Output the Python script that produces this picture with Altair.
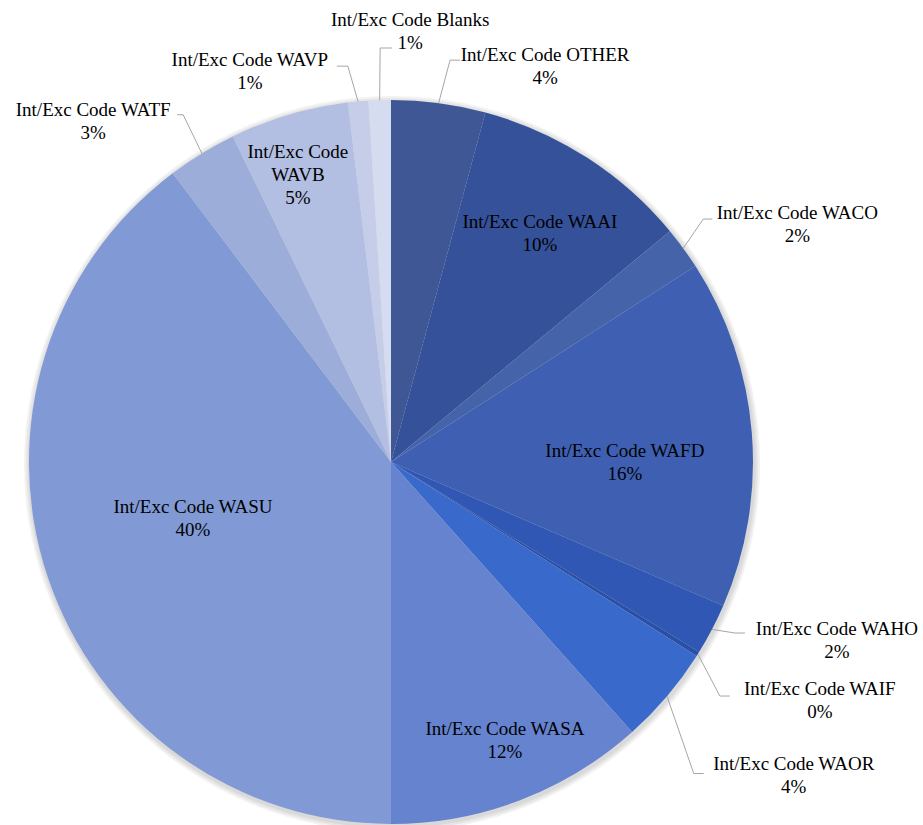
import math
import altair as alt
import pandas as pd

# ---- data ----
codes = ["OTHER", "WAAI", "WACO", "WAFD", "WAHO", "WAIF", "WAOR",
         "WASA", "WASU", "WATF", "WAVB", "WAVP", "Blanks"]
values = [4.2, 9.8, 1.9, 15.6, 2.3, 0.2, 4.4, 11.6, 39.7, 3.1, 5.3, 0.9, 1.0]
colors = ["#3F5795", "#34519A", "#4563A9", "#3F60B2", "#2F57B3", "#2A4FA6", "#396ACB",
          "#6583CF", "#819AD5", "#9DADD9", "#B2BEE2", "#C6CDE9", "#D5DCEF"]

# ---- layout ----
CX, CY, R = 391, 462, 362
FONT = "Times New Roman"
LH = 23

# inside labels: (radius factor, angle nudge in degrees)
inside = {
    "WAAI": (0.754, 0.3),
    "WAFD": (0.646, 4.8),
    "WASA": (0.83, -1.4),
    "WASU": (0.569, 2.6),
    "WAVB": (0.833, -1.6),
}
# outside labels: (elbow radius factor, elbow angle nudge, horizontal segment, text dx, text dy)
outside = {
    "OTHER": (1.122, 0.8, 10, 85, 6.5),
    "Blanks": (1.144, 0.3, 12, 18, -16.5),
    "WAVP": (1.10, -1.0, -11, -87, 5.5),
    "WATF": (1.118, 0.6, -6, -84, 7),
    "WACO": (1.093, -1.7, 9, 85, 5),
    "WAHO": (1.061, -1.1, 10, 92, 7),
    "WAIF": (1.115, 3.4, 10, 90, 4),
    "WAOR": (1.20, 5.5, 10, 90, 2),
}

names = [f"Int/Exc Code {c}" for c in codes]
total = sum(values)
df = pd.DataFrame({"name": names, "code": codes, "value": values,
                   "order": list(range(len(codes)))})


def polar(deg, r):
    a = math.radians(deg)
    return CX + r * math.sin(a), CY - r * math.cos(a)


label_rows, line_rows = [], []
cum = 0.0
for code, v in zip(codes, values):
    mid = (cum + v / 2) / total * 360.0
    cum += v
    pct = f"{round(v)}%"
    if code in inside:
        rf, dang = inside[code]
        x, y = polar(mid + dang, rf * R)
        text = (f"Int/Exc Code\n{code}\n{pct}" if code == "WAVB"
                else f"Int/Exc Code {code}\n{pct}")
    else:
        rf, dang, h, tdx, tdy = outside[code]
        sx, sy = polar(mid, R)
        ex, ey = polar(mid + dang, rf * R)
        hx = ex + h
        line_rows += [
            {"id": code, "i": 0, "x": sx, "y": sy},
            {"id": code, "i": 1, "x": ex, "y": ey},
            {"id": code, "i": 2, "x": hx, "y": ey},
        ]
        x, y = hx + tdx, ey + tdy
        text = f"Int/Exc Code {code}\n{pct}"
    n = text.count("\n") + 1
    # first line is drawn at y; shift so the block is centred
    label_rows.append({"x": x, "y": y - (n - 1) * LH / 2, "text": text})

labels_df = pd.DataFrame(label_rows)
lines_df = pd.DataFrame(line_rows)
base = pd.DataFrame({"k": [0]})

shadows = [
    alt.Chart(base).mark_arc(theta=0, theta2=2 * math.pi, radius=R + k,
                             color="#000000", opacity=0.05)
    .encode(x=alt.value(CX + 1), y=alt.value(CY + 2))
    for k in (6, 4, 2)
]

pie = alt.Chart(df).mark_arc(radius=R).encode(
    theta=alt.Theta("value:Q", stack=True),
    order=alt.Order("order:Q", sort="ascending"),
    color=alt.Color("name:N", scale=alt.Scale(domain=names, range=colors), legend=None),
    x=alt.value(CX), y=alt.value(CY),
)

leaders = alt.Chart(lines_df).mark_line(color="#A6A6A6", strokeWidth=1).encode(
    x=alt.X("x:Q", scale=None, axis=None),
    y=alt.Y("y:Q", scale=None, axis=None),
    detail="id:N",
    order="i:Q",
)

texts = alt.Chart(labels_df).mark_text(
    font=FONT, fontSize=19, lineHeight=LH, lineBreak="\n",
    align="center", baseline="middle", color="#000000"
).encode(
    x=alt.X("x:Q", scale=None, axis=None),
    y=alt.Y("y:Q", scale=None, axis=None),
    text="text:N",
)

chart = alt.layer(*shadows, pie, leaders, texts).properties(
    width=923, height=825,
    autosize=alt.AutoSizeParams(type="none"),
    padding=0,
).configure(background="white", font=FONT).configure_view(stroke=None)

chart.save("out.html", embed_options={"renderer": "svg", "actions": False})
